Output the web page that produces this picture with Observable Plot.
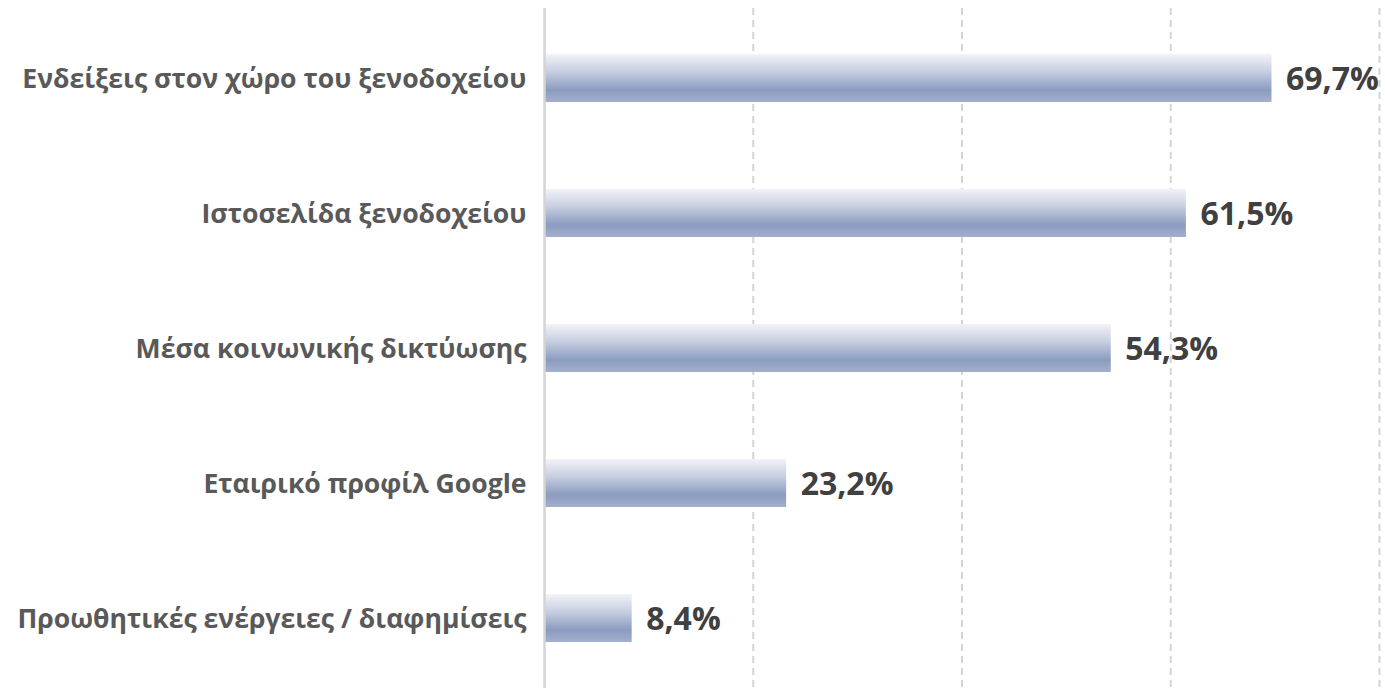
<!DOCTYPE html>
<html>
<head>
<meta charset="utf-8">
<script src="https://cdn.jsdelivr.net/npm/d3@7"></script>
<script src="https://cdn.jsdelivr.net/npm/@observablehq/plot@0.6"></script>
<style>
  html, body { margin: 0; padding: 0; background: #ffffff; }
  #chart { width: 1385px; height: 688px; overflow: hidden; }
</style>
</head>
<body>
<div id="chart"></div>
<script>
const categories = [
  "Ενδείξεις στον χώρο του ξενοδοχείου",
  "Ιστοσελίδα ξενοδοχείου",
  "Μέσα κοινωνικής δικτύωσης",
  "Εταιρικό προφίλ Google",
  "Προωθητικές ενέργειες / διαφημίσεις"
];
const values = [69.7, 61.5, 54.3, 23.2, 8.4];
const valueLabels = ["69,7%", "61,5%", "54,3%", "23,2%", "8,4%"];
const gridTicks = [20, 40, 60, 80];

const data = categories.map((c, i) => ({category: c, value: values[i], label: valueLabels[i]}));

const font = "'Open Sans', sans-serif";

const gradientDefs = () => {
  const ns = "http://www.w3.org/2000/svg";
  const defs = document.createElementNS(ns, "defs");
  const grad = document.createElementNS(ns, "linearGradient");
  grad.setAttribute("id", "barGrad");
  grad.setAttribute("x1", "0"); grad.setAttribute("y1", "0");
  grad.setAttribute("x2", "0"); grad.setAttribute("y2", "1");
  [["0%", "#f2f3f8"], ["35%", "#c9d0e1"], ["75%", "#8b9cc0"], ["100%", "#a3b0cc"]].forEach(([o, c]) => {
    const s = document.createElementNS(ns, "stop");
    s.setAttribute("offset", o); s.setAttribute("stop-color", c);
    grad.appendChild(s);
  });
  defs.appendChild(grad);
  return defs;
};

const chart = Plot.plot({
  width: 1385,
  height: 688,
  marginLeft: 544,
  marginRight: 6,
  marginTop: 8,
  marginBottom: 0,
  style: {fontFamily: font, background: "#ffffff"},
  x: {domain: [0, 80], axis: null},
  y: {domain: categories, paddingInner: 0.645, paddingOuter: 0.332, axis: null},
  marks: [
    gradientDefs,
    Plot.ruleX(gridTicks, {stroke: "#d4d4d4", strokeWidth: 2, strokeDasharray: "7,5"}),
    Plot.barX(data, {x: "value", y: "category", fill: "url(#barGrad)"}),
    Plot.ruleX([0], {stroke: "#d4d4d4", strokeWidth: 2.5}),
    Plot.text(data, {x: 0, y: "category", text: "category", textAnchor: "end", dx: -18, dy: 1,
      fill: "#595959", fontSize: 26.6, fontWeight: "bold"}),
    Plot.text(data, {x: "value", y: "category", text: "label", textAnchor: "start", dx: 14, dy: 1,
      fill: "#404040", fontSize: 32, fontWeight: "bold"})
  ]
});
document.getElementById("chart").appendChild(chart);
</script>
</body>
</html>
